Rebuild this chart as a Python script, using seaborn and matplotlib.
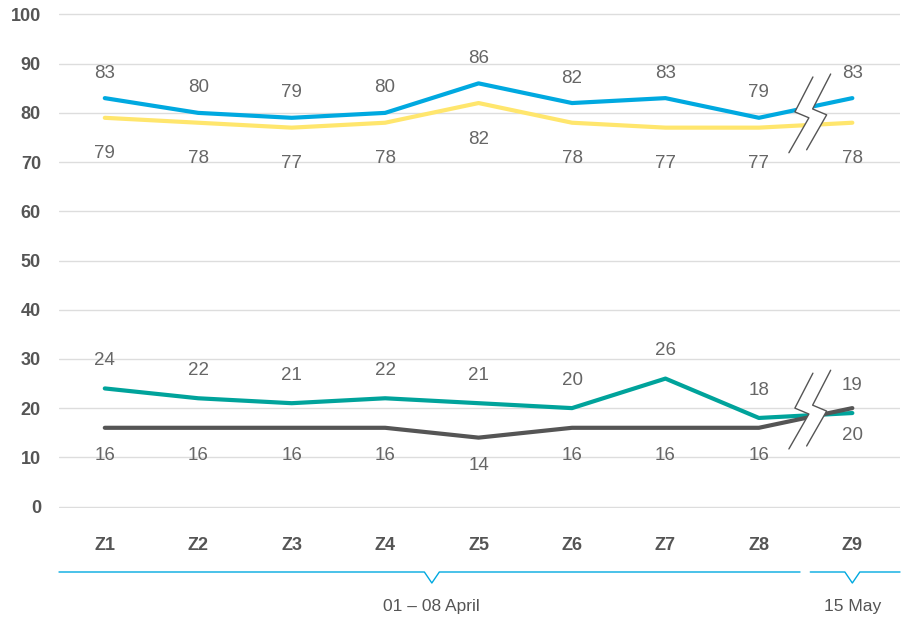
import numpy as np
import pandas as pd
import matplotlib.pyplot as plt
import seaborn as sns

# données
zones = ["Z1", "Z2", "Z3", "Z4", "Z5", "Z6", "Z7", "Z8", "Z9"]
bleu = [83, 80, 79, 80, 86, 82, 83, 79, 83]
jaune = [79, 78, 77, 78, 82, 78, 77, 77, 78]
turquoise = [24, 22, 21, 22, 21, 20, 26, 18, 19]
gris = [16, 16, 16, 16, 14, 16, 16, 16, 20]
periodes = ["01 – 08 April", "15 May"]

series = {"bleu": bleu, "jaune": jaune, "turquoise": turquoise, "gris": gris}
couleurs = {"bleu": "#00A9E0", "jaune": "#FFE66D", "turquoise": "#00A39B", "gris": "#555555"}

rows = []
for nom, vals in series.items():
    for i, v in enumerate(vals):
        rows.append({"zone": i, "valeur": v, "serie": nom})
df = pd.DataFrame(rows)

sns.set_style("white")
plt.rcParams['font.family'] = ['Liberation Sans', 'DejaVu Sans']

fig = plt.figure(figsize=(9.06, 6.21), dpi=100)
ax = fig.add_axes([59 / 906, 1 - 508 / 621, 841 / 906, 495 / 621])

sns.lineplot(data=df, x="zone", y="valeur", hue="serie", palette=couleurs,
             linewidth=3, legend=False, ax=ax, zorder=3)

ax.set_xlim(-0.49, 8.51)
ax.set_ylim(-0.3, 100.3)
ax.set_yticks(range(0, 101, 10))
ax.grid(axis="y", color="#dddddd", linewidth=1)
ax.set_axisbelow(True)
for s in ax.spines.values():
    s.set_visible(False)
ax.set_xticks(range(len(zones)))
ax.set_xticklabels(zones)
ax.tick_params(axis="x", length=0, pad=21, labelsize=13, labelcolor="#555555")
ax.tick_params(axis="y", length=0, pad=13, labelsize=13, labelcolor="#555555")
for lab in ax.get_xticklabels() + ax.get_yticklabels():
    lab.set_fontweight("bold")
ax.set_xlabel("")
ax.set_ylabel("")

# étiquettes de valeurs
decalages = {"bleu": 18, "jaune": -26, "turquoise": 20, "gris": -20}
for nom, vals in series.items():
    for i, v in enumerate(vals):
        ax.annotate(str(v), (i, v), xytext=(0, decalages[nom]), textcoords="offset points",
                    ha="center", va="center", fontsize=13.5, color="#666666")

# symbole de rupture entre Z8 et Z9
forme = np.array([[0.118, 7.7], [-0.075, 0.6], [0.075, -0.6], [-0.139, -7.7]])
decal = np.array([0.19, 0.6])
for cy in [79.6, 19.4]:
    centre = np.array([7.46, cy])
    g = forme + centre
    d = forme + centre + decal
    poly = np.vstack([g, d[::-1]])
    ax.fill(poly[:, 0], poly[:, 1], color="white", zorder=4, lw=0)
    ax.plot(g[:, 0], g[:, 1], color="#555555", lw=1, zorder=5)
    ax.plot(d[:, 0], d[:, 1], color="#555555", lw=1, zorder=5)

# accolades des périodes sous l'axe
trans = ax.get_xaxis_transform()
y0 = -64 / 495
prof = 11 / 495
plages = [(-0.49, 7.44, 3.5), (7.55, 8.51, 8.0)]
for (a, b, m), texte in zip(plages, periodes):
    xs = [a, m - 0.08, m, m + 0.08, b]
    ys = [y0, y0, y0 - prof, y0, y0]
    ax.plot(xs, ys, color="#00A9E0", lw=1, transform=trans, clip_on=False)
    ax.text(m, -99 / 495, texte, transform=trans, ha="center", va="center",
            fontsize=12.5, color="#555555")

fig.savefig("out.png", dpi=100)
